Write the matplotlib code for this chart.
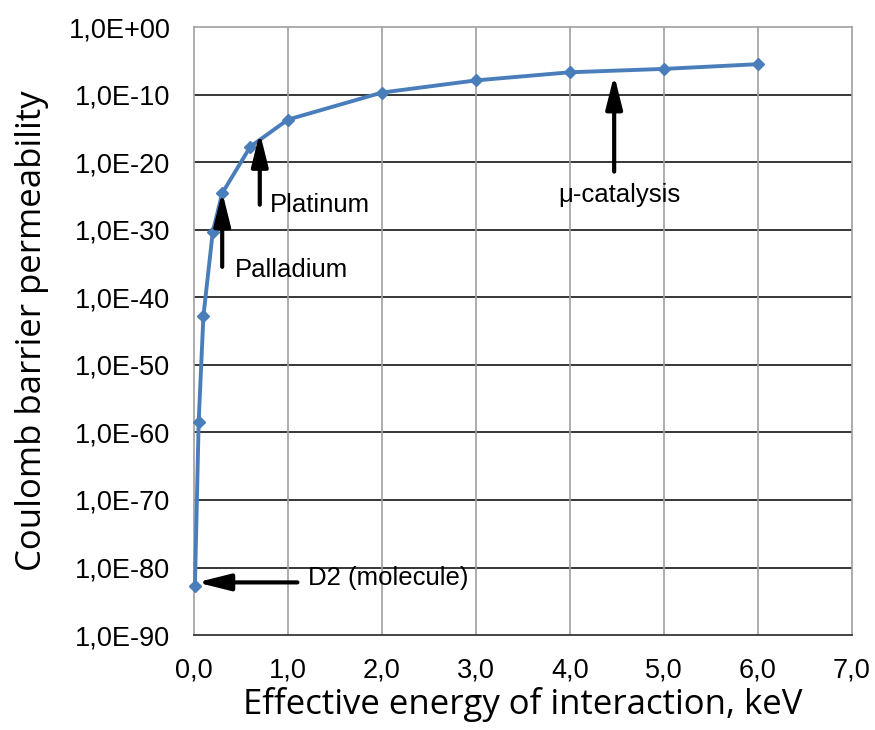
import numpy as np
import matplotlib.pyplot as plt
from matplotlib.ticker import FixedLocator, FuncFormatter

# energy [keV] and log10 of Coulomb barrier permeability
energy = [0.01, 0.05, 0.1, 0.2, 0.3, 0.6, 1.0, 2.0, 3.0, 4.0, 5.0, 6.0]
log_perm = [-82.7, -58.4, -42.8, -30.3, -24.6, -17.7, -13.7, -9.7, -7.9, -6.7, -6.2, -5.5]
perm = [10.0 ** p for p in log_perm]

xticks = [0, 1, 2, 3, 4, 5, 6, 7]
yticks_exp = [0, -10, -20, -30, -40, -50, -60, -70, -80, -90]

line_col = '#4a7ebb'
tick_font = ['Liberation Sans', 'DejaVu Sans']
label_font = ['Open Sans', 'DejaVu Sans']

fig = plt.figure(figsize=(8.75, 7.3), dpi=100)
ax = fig.add_axes([0.2217, 0.130, 0.7520, 0.833])

ax.plot(energy, perm, color=line_col, lw=2.8, marker='D', ms=6.5,
        mec=line_col, mfc=line_col, zorder=5, clip_on=False)

ax.set_yscale('log')
ax.set_xlim(0, 7)
ax.set_ylim(1e-90, 1e0)

ax.yaxis.set_major_locator(FixedLocator([10.0 ** e for e in yticks_exp]))
ax.yaxis.set_minor_locator(FixedLocator([]))
ax.yaxis.set_major_formatter(FuncFormatter(
    lambda v, p: '1,0E%s%02d' % ('+' if np.log10(v) >= 0 else '-', abs(round(np.log10(v))))))
ax.xaxis.set_major_locator(FixedLocator(xticks))
ax.xaxis.set_major_formatter(FuncFormatter(lambda v, p: ('%.1f' % v).replace('.', ',')))

ax.tick_params(axis='both', length=0, labelsize=19.5)
ax.tick_params(axis='y', pad=17)
ax.tick_params(axis='x', pad=16)
for lab in ax.get_xticklabels() + ax.get_yticklabels():
    lab.set_family(tick_font)

# gridlines: dark horizontal, grey vertical
for e in yticks_exp[1:-1]:
    ax.axhline(10.0 ** e, color='#262626', lw=1.3, zorder=1)
for x in xticks[1:-1]:
    ax.axvline(x, color='#a0a0a0', lw=1.2, zorder=1)
ax.spines['left'].set_color('#a0a0a0')
ax.spines['top'].set_color('#a0a0a0')
ax.spines['right'].set_color('#a0a0a0')
ax.spines['bottom'].set_color('#262626')
for s in ax.spines.values():
    s.set_linewidth(1.2)

ax.set_xlabel('Effective energy of interaction, keV', fontsize=25,
              family=label_font, labelpad=3)
ax.set_ylabel('Coulomb barrier permeability', fontsize=25,
              family=label_font, labelpad=14)

arrow = dict(arrowstyle='-|>,head_length=2.0,head_width=0.5', lw=3, color='black',
             shrinkA=0, shrinkB=0)
ann_font = dict(fontsize=18.5, family=tick_font, color='black')

ax.annotate('', xy=(0.03, 10 ** -82.2), xytext=(1.1, 10 ** -82.2), arrowprops=arrow, zorder=6)
ax.text(1.21, 10 ** -81.6, 'D2 (molecule)', va='center', ha='left', **ann_font)

ax.annotate('', xy=(0.30, 10 ** -24.4), xytext=(0.30, 10 ** -35.5), arrowprops=arrow, zorder=6)
ax.text(0.44, 10 ** -35.9, 'Palladium', va='center', ha='left', **ann_font)

ax.annotate('', xy=(0.70, 10 ** -15.6), xytext=(0.70, 10 ** -26.3), arrowprops=arrow, zorder=6)
ax.text(0.81, 10 ** -26.3, 'Platinum', va='center', ha='left', **ann_font)

ax.annotate('', xy=(4.47, 10 ** -7.1), xytext=(4.47, 10 ** -21.4), arrowprops=arrow, zorder=6)
ax.text(4.53, 10 ** -24.9, '\u03bc-catalysis', va='center', ha='center', **ann_font)

fig.savefig('out.png', dpi=100)
